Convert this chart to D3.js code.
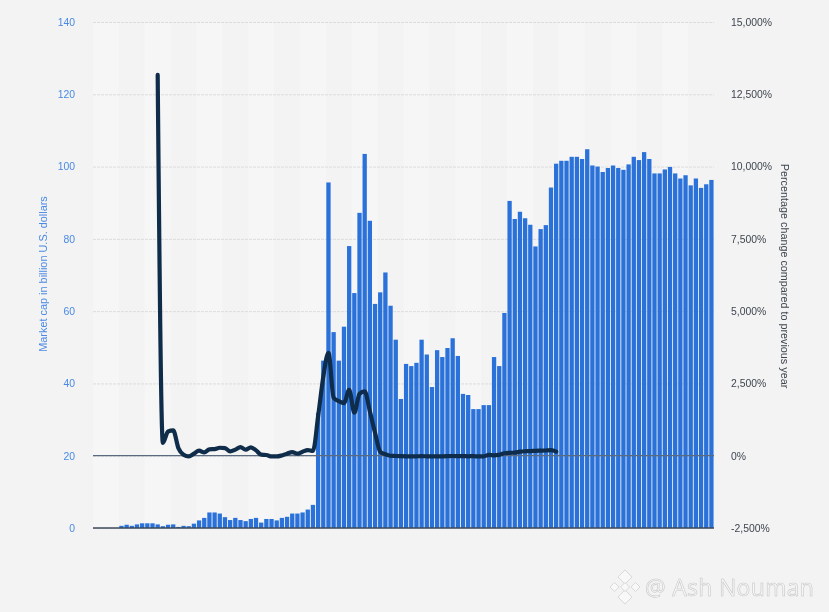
<!DOCTYPE html>
<html>
<head>
<meta charset="utf-8">
<script src="https://cdn.jsdelivr.net/npm/d3@7"></script>
<style>
  html, body { margin: 0; padding: 0; background: #f3f3f3; }
  svg { display: block; filter: blur(0.6px); }
  text { font-family: "Liberation Sans", Arial, sans-serif; }
</style>
</head>
<body>
<div id="chartid"></div>
<script>
//chart parameters
var width = 829;
var height = 612;
var margin = {top: 22, right: 115, bottom: 84, left: 93};

// one entry per quarter, no labels are shown on the x axis
var categories = d3.range(120);

// market cap in billion U.S. dollars
var marketCap = [
  0, 0, 0, 0, 0, 0.6, 0.9, 0.6, 1.0, 1.3,
  1.3, 1.3, 1.0, 0.5, 0.9, 1.0, 0.3, 0.6, 0.5, 1.2,
  2.1, 2.8, 4.3, 4.3, 4.0, 3.0, 2.2, 2.8, 2.2, 1.9,
  2.5, 2.8, 1.5, 2.5, 2.5, 2.1, 2.8, 3.1, 4.0, 4.0,
  4.3, 5.1, 6.4, 31.9, 46.3, 95.6, 54.2, 46.3, 55.7, 78,
  65, 87.2, 103.5, 85, 62, 65.2, 70.7, 61.5, 52.1, 35.7,
  45.4, 44.8, 45.7, 52.1, 48, 39, 49.2, 47.3, 49.8, 52.5,
  47.6, 37.1, 36.8, 32.9, 32.9, 34, 34, 47.3, 44.8, 59.5,
  90.5, 85.5, 87.5, 85.7, 83.9, 77.9, 82.7, 83.8, 94.2, 100.8,
  101.6, 101.6, 102.7, 102.7, 102.1, 104.8, 100.3, 100, 98.5, 99.6,
  100.3, 99.6, 99.1, 100.6, 102.7, 101.8, 104, 102.1, 98.1, 98.1,
  99.2, 99.9, 98.1, 96.7, 97.6, 94.8, 96.7, 94.1, 95.1, 96.3
];

// percentage change compared to previous year, starts at the 13th quarter
var changeCategories = categories.slice(12, 90);
var changeValues = [
  13170, 440, 840, 875, 265, 35, -25, 70, 175, 115,
  220, 230, 275, 265, 150, 210, 300, 210, 290, 185,
  35, 25, -25, -25, 10, 70, 125, 70, 140, 195,
  165, 1360, 2730, 3560, 2005, 1885, 1820, 2280, 1490, 2140,
  2225, 1535, 795, 140, 50, 0, -10, -15, -20, -25,
  -20, -15, -20, -25, -25, -20, -15, -10, -15, -15,
  -20, -15, -25, -20, 30, 15, 30, 85, 100, 105,
  140, 155, 160, 170, 175, 180, 190, 140
];

var leftTicks = [0, 20, 40, 60, 80, 100, 120, 140];
var rightTicks = [-2500, 0, 2500, 5000, 7500, 10000, 12500, 15000];

var leftTitle = "Market cap in billion U.S. dollars";
var rightTitle = "Percentage change compared to previous year";
var watermark = "@ Ash Nouman";

var plotW = width - margin.left - margin.right;
var plotH = height - margin.top - margin.bottom;

var svg = d3.select("div#chartid")
  .append("svg")
  .attr("width", width)
  .attr("height", height);

var g = svg.append("g")
  .attr("transform", "translate(" + margin.left + "," + margin.top + ")");

//create scales
var x = d3.scaleBand()
  .domain(categories)
  .range([0, plotW])
  .paddingInner(0.17)
  .paddingOuter(0.085);

var y = d3.scaleLinear().domain([0, 140]).range([plotH, 0]);
var y2 = d3.scaleLinear().domain([-2500, 15000]).range([plotH, 0]);

//alternating bands, 5 quarters wide
g.selectAll("rect.band")
  .data(categories.filter(function(d) { return d % 10 === 0; }))
  .enter().append("rect")
  .attr("class", "band")
  .attr("x", function(d) { return x.step() * d; })
  .attr("width", x.step() * 5)
  .attr("y", 0)
  .attr("height", plotH)
  .attr("fill", "#f6f6f6");

//draw axes
var yAxis = d3.axisLeft(y)
  .tickValues(leftTicks)
  .tickSizeInner(-plotW)
  .tickSizeOuter(0)
  .tickPadding(18);

var leftAxis = g.append("g").attr("class", "y axis").call(yAxis);
leftAxis.select(".domain").remove();
leftAxis.selectAll("line")
  .attr("stroke", "#dcdcdc")
  .attr("stroke-dasharray", "3,1");
leftAxis.selectAll("text")
  .attr("fill", "#4a8ae4")
  .attr("font-size", 10.4);

var y2Axis = d3.axisRight(y2)
  .tickValues(rightTicks)
  .tickFormat(function(d) { return d3.format(",")(d).replace("\u2212", "-") + "%"; })
  .tickSize(0)
  .tickPadding(17);

var rightAxis = g.append("g")
  .attr("class", "y axis right")
  .attr("transform", "translate(" + plotW + ",0)")
  .call(y2Axis);
rightAxis.select(".domain").remove();
rightAxis.selectAll("text")
  .attr("fill", "#3f4650")
  .attr("font-size", 10.4);

//bars
g.selectAll("rect.bar")
  .data(categories)
  .enter().append("rect")
  .attr("class", "bar")
  .attr("x", function(d) { return x(d); })
  .attr("width", x.bandwidth())
  .attr("y", function(d) { return y(marketCap[d]); })
  .attr("height", function(d) { return plotH - y(marketCap[d]); })
  .attr("fill", "#2a72da");

//zero lines
g.append("line")
  .attr("x1", 0).attr("x2", plotW)
  .attr("y1", y2(0)).attr("y2", y2(0))
  .attr("stroke", "#5a6b80")
  .attr("stroke-width", 1.3);

g.append("line")
  .attr("x1", 0).attr("x2", plotW)
  .attr("y1", y(0)).attr("y2", y(0))
  .attr("stroke", "#3c4a5c")
  .attr("stroke-width", 1.4);

//percentage line
var line = d3.line()
  .x(function(d, i) { return x(changeCategories[i]) + x.bandwidth() / 2; })
  .y(function(d) { return y2(d); })
  .curve(d3.curveMonotoneX);

g.append("path")
  .datum(changeValues)
  .attr("d", line)
  .attr("fill", "none")
  .attr("stroke", "#0f2d4a")
  .attr("stroke-width", 4.2)
  .attr("stroke-linejoin", "round")
  .attr("stroke-linecap", "round");

//axis titles
svg.append("text")
  .attr("transform", "translate(47,274) rotate(-90)")
  .attr("text-anchor", "middle")
  .attr("font-size", 10.9)
  .attr("fill", "#4a8ae4")
  .text(leftTitle);

svg.append("text")
  .attr("transform", "translate(781,276) rotate(90)")
  .attr("text-anchor", "middle")
  .attr("font-size", 10.8)
  .attr("fill", "#3f4650")
  .text(rightTitle);

//watermark
var mark = svg.append("g")
  .attr("transform", "translate(625,587)")
  .attr("fill", "#f8f8f8")
  .attr("stroke", "#cfcfcf")
  .attr("stroke-width", 0.7);

[[0, -10, 5], [-10.5, 0, 3.2], [10.5, 0, 3.2], [0, 10, 5], [0, 0, 3.2]].forEach(function(s) {
  mark.append("rect")
    .attr("x", s[0] - s[2])
    .attr("y", s[1] - s[2])
    .attr("width", s[2] * 2)
    .attr("height", s[2] * 2)
    .attr("transform", "rotate(45 " + s[0] + " " + s[1] + ")");
});

svg.append("text")
  .attr("x", 645)
  .attr("y", 596)
  .attr("font-size", 23)
  .attr("letter-spacing", 0.3)
  .style("font-family", "'Open Sans', sans-serif")
  .attr("fill", "#f7f7f7")
  .attr("stroke", "#c8c8c8")
  .attr("stroke-width", 0.6)
  .text(watermark);
</script>
</body>
</html>
